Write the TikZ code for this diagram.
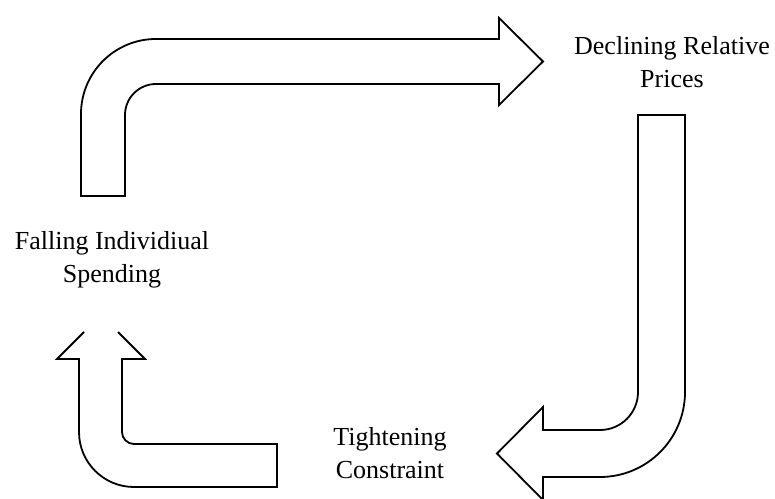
\documentclass[tikz,border=0pt]{standalone}
\usepackage{fontspec}
\setmainfont{Liberation Serif}
\begin{document}
\begin{tikzpicture}[x=1pt,y=1pt,
  bentarrow/.style={draw=black, line width=1.8pt, fill=white, line join=miter},
  label/.style={align=center, font=\fontsize{26}{33}\selectfont, inner sep=0pt}]
\useasboundingbox (0,0) rectangle (775,498);
\clip (0,0) rectangle (775,498);
% top arrow
\draw[bentarrow] (81,302) -- (81,384) arc[start angle=180, end angle=90, radius=75]
  -- (499,459) -- (499,480) -- (543,436.5) -- (499,393) -- (499,414) -- (156,414)
  arc[start angle=90, end angle=180, radius=31] -- (125,302) -- cycle;
% right arrow
\draw[bentarrow] (685,383) -- (685,106) arc[start angle=0, end angle=-90, radius=85]
  -- (543,21) -- (543,-2) -- (497,44.5) -- (543,91) -- (543,68) -- (600,68)
  arc[start angle=-90, end angle=0, radius=38] -- (638,383) -- cycle;
% bottom-left arrow (tip hidden under the label)
\draw[bentarrow] (84,166) -- (57,139) -- (79,139) -- (79,66)
  arc[start angle=180, end angle=270, radius=55] -- (277,11) -- (277,54) -- (134,54)
  arc[start angle=270, end angle=180, radius=12] -- (122,139) -- (145,139) -- (118,166);
\node[label] (prices) at (672,436) {Declining Relative\\Prices};
\node[label] (spending) at (112,238) {Falling Individiual\\Spending};
\node[label] (constraint) at (390,45) {Tightening\\Constraint};
\end{tikzpicture}
\end{document}
